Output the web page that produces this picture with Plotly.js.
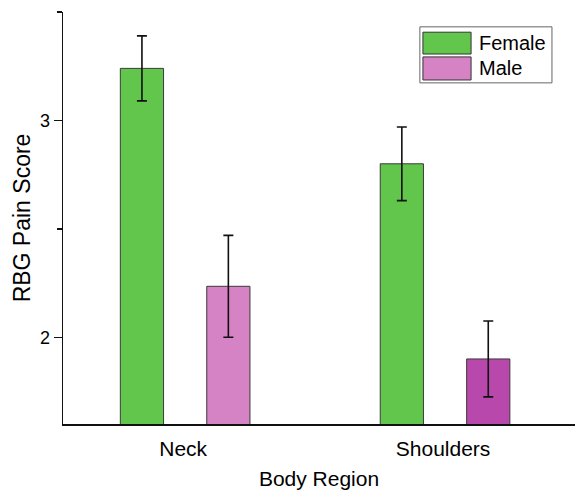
<!DOCTYPE html>
<html>
<head>
<meta charset="utf-8">
<script src="https://cdn.plot.ly/plotly-3.0.1.min.js"></script>
<style>
  html, body { margin: 0; padding: 0; background: #fff; }
  #chart { width: 575px; height: 490px; }
</style>
</head>
<body>
<div id="chart"></div>
<script>
// Body regions on the x axis
const categories = ['Neck', 'Shoulders'];

// Mean RBG pain score and error per region
const femaleMean = [3.24, 2.80];
const femaleErr = [0.15, 0.17];
const maleMean = [2.235, 1.90];
const maleErr = [0.235, 0.175];

const seriesNames = ['Female', 'Male'];
const femaleColor = '#62c64d';
const maleColors = ['#d683c6', '#b848ab'];

const FONT = 'Liberation Sans, Arial, sans-serif';

const barLine = { color: '#3a3a3a', width: 1 };
const errStyle = { type: 'data', visible: true, color: '#111', thickness: 1.6, width: 5 };

const traces = [
  {
    type: 'bar', name: seriesNames[0], x: categories, y: femaleMean,
    marker: { color: femaleColor, line: barLine },
    error_y: Object.assign({ array: femaleErr }, errStyle),
    showlegend: false
  },
  {
    type: 'bar', name: seriesNames[1], x: categories, y: maleMean,
    marker: { color: maleColors, line: barLine },
    error_y: Object.assign({ array: maleErr }, errStyle),
    showlegend: false
  }
];

// Legend box drawn in paper coordinates with wide swatches
const legendShapes = [
  { type: 'rect', xref: 'paper', yref: 'paper', x0: 0.697, x1: 0.955, y0: 0.828, y1: 0.964,
    line: { color: '#666', width: 1 }, fillcolor: 'rgba(0,0,0,0)' },
  { type: 'rect', xref: 'paper', yref: 'paper', x0: 0.703, x1: 0.797, y0: 0.898, y1: 0.951,
    line: { color: '#333', width: 1 }, fillcolor: femaleColor },
  { type: 'rect', xref: 'paper', yref: 'paper', x0: 0.703, x1: 0.797, y0: 0.835, y1: 0.891,
    line: { color: '#333', width: 1 }, fillcolor: maleColors[0] }
];
const legendLabels = [
  { xref: 'paper', yref: 'paper', x: 0.808, y: 0.925, xanchor: 'left', yanchor: 'middle',
    text: seriesNames[0], showarrow: false, font: { family: FONT, size: 20, color: '#000' } },
  { xref: 'paper', yref: 'paper', x: 0.808, y: 0.863, xanchor: 'left', yanchor: 'middle',
    text: seriesNames[1], showarrow: false, font: { family: FONT, size: 20, color: '#000' } }
];

const layout = {
  width: 575, height: 490,
  margin: { l: 63, r: 0, t: 12, b: 66 },
  paper_bgcolor: '#fff', plot_bgcolor: '#fff',
  font: { family: FONT, size: 18, color: '#000' },
  barmode: 'group',
  bargap: 0.335,
  bargroupgap: 0.5,
  xaxis: {
    type: 'category',
    range: [-0.47, 1.5],
    showline: true, linecolor: '#111', linewidth: 1.5,
    ticks: '', showgrid: false, zeroline: false,
    ticklabelstandoff: 5,
    ticklabelshift: -2,
    tickfont: { family: FONT, size: 21 },
    title: { text: 'Body Region', font: { family: FONT, size: 21 }, standoff: 13 }
  },
  yaxis: {
    range: [1.6, 3.5],
    tickvals: [2, 3],
    ticks: 'outside', ticklen: 8, tickwidth: 1.5, tickcolor: '#111',
    minor: { tick0: 0, dtick: 0.5, ticks: 'outside', ticklen: 5, tickwidth: 1.5, tickcolor: '#111' },
    showline: true, linecolor: '#111', linewidth: 1.5,
    showgrid: false, zeroline: false,
    tickfont: { family: FONT, size: 18 },
    title: { text: 'RBG Pain Score', font: { family: FONT, size: 23 }, standoff: 3 }
  },
  shapes: legendShapes,
  annotations: legendLabels,
  showlegend: false
};

Plotly.newPlot('chart', traces, layout, { staticPlot: true, displayModeBar: false });
</script>
</body>
</html>
